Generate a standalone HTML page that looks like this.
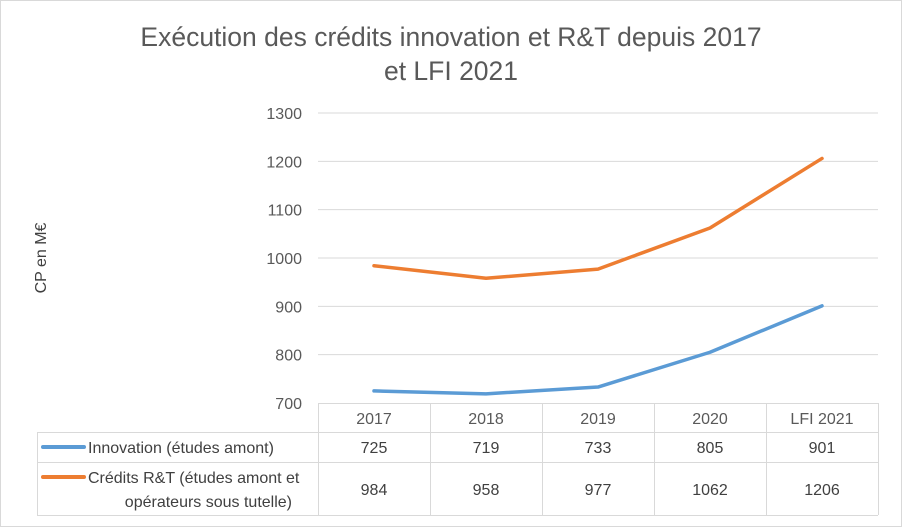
<!DOCTYPE html>
<html><head><meta charset="utf-8"><style>
body{margin:0;background:#fff;}
svg{display:block;font-family:"Liberation Sans",sans-serif;}
</style></head><body>
<svg id="c" width="902" height="527">
<rect x="0.5" y="0.5" width="901" height="526" fill="#fff" stroke="#d9d9d9"/>
<text x="451" y="46" text-anchor="middle" font-size="26.5" fill="#595959">Exécution des crédits innovation et R&amp;T depuis 2017</text>
<text x="451" y="80" text-anchor="middle" font-size="26.5" fill="#595959">et LFI 2021</text>
<text transform="translate(46,258) rotate(-90)" text-anchor="middle" font-size="16" fill="#404040">CP en M€</text>
<g id="grid"></g><g id="table"></g><g id="series"></g>
</svg>
<script>
const categories=["2017","2018","2019","2020","LFI 2021"];
const innovation=[725,719,733,805,901];
const rt=[984,958,977,1062,1206];
const yTicks=[700,800,900,1000,1100,1200,1300];
const NS="http://www.w3.org/2000/svg";
const X0=318,X1=878,Y0=403,Y1=113,YMIN=700,YMAX=1300;
const cw=(X1-X0)/categories.length;
const x=i=>X0+cw*(i+0.5);
const y=v=>Y0-(v-YMIN)/(YMAX-YMIN)*(Y0-Y1);
function mk(t,a,p){const e=document.createElementNS(NS,t);for(const k in a)e.setAttribute(k,a[k]);p.appendChild(e);return e;}
const g=document.getElementById('grid'),tb=document.getElementById('table'),s=document.getElementById('series');
yTicks.forEach(v=>{
 if(v>YMIN){const l=mk('line',{x1:X0,x2:X1,y1:y(v),y2:y(v),stroke:'#d9d9d9'},g);
 
 }
 const t=mk('text',{x:302,y:y(v)+6,'text-anchor':'end','font-size':16,fill:'#595959'},g);t.textContent=v;
 
 
});
const L=37;
[[X0,X1,403],[L,X1,432],[L,X1,462],[L,X1,515]].forEach(r=>{mk('line',{x1:r[0],x2:r[1],y1:r[2]+0.5,y2:r[2]+0.5,stroke:'#d9d9d9'},tb);});
mk('line',{x1:L+0.5,x2:L+0.5,y1:432,y2:515,stroke:'#d9d9d9'},tb);
for(let i=0;i<=categories.length;i++){mk('line',{x1:X0+cw*i+0.5,x2:X0+cw*i+0.5,y1:403,y2:515,stroke:'#d9d9d9'},tb);}
categories.forEach((c,i)=>{
 const t=mk('text',{x:x(i),y:424,'text-anchor':'middle','font-size':16,fill:'#595959'},tb);t.textContent=c;
 
 
 const a=mk('text',{x:x(i),y:453,'text-anchor':'middle','font-size':16,fill:'#404040'},tb);a.textContent=innovation[i];
 
 
 const b=mk('text',{x:x(i),y:495,'text-anchor':'middle','font-size':16,fill:'#404040'},tb);b.textContent=rt[i];
 
 
});
mk('line',{x1:43,x2:84,y1:447,y2:447,stroke:'#5b9bd5','stroke-width':4,'stroke-linecap':'round'},tb);
mk('line',{x1:43,x2:84,y1:477,y2:477,stroke:'#ed7d31','stroke-width':4,'stroke-linecap':'round'},tb);
const l1=mk('text',{x:88,y:453,'font-size':16,fill:'#404040'},tb);l1.textContent="Innovation (études amont)";


const l2=mk('text',{x:88,y:483,'font-size':16,fill:'#404040'},tb);l2.textContent="Crédits R&T (études amont et";


const l3=mk('text',{x:292,y:507,'font-size':16,fill:'#404040','text-anchor':'end'},tb);l3.textContent="opérateurs sous tutelle)";


function line(d,col,name){const p=mk('polyline',{points:d.map((v,i)=>x(i)+','+y(v)).join(' '),fill:'none',stroke:col,'stroke-width':3.5,'stroke-linejoin':'round','stroke-linecap':'round'},s);
 
 }
line(innovation,'#5b9bd5','innovation-line');
line(rt,'#ed7d31','rt-line');
</script>
</body></html>
